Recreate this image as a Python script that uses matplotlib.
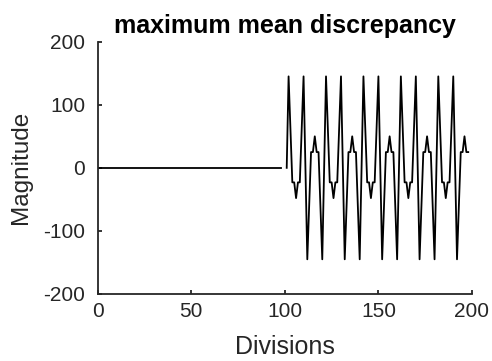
import matplotlib
matplotlib.use("Agg")
import matplotlib.pyplot as plt

# ========== DATA ========== #

# flat part (zero signal)
x_flat = [0, 98]
y_flat = [0, 0]

# oscillating part
x_osc = [101, 102, 104, 105, 106, 107, 108, 110, 112, 114, 115, 116, 117, 118, 120,
         122, 124, 125, 126, 127, 128, 130, 132, 134, 135, 136, 137, 138, 140,
         142, 144, 145, 146, 147, 148, 150, 152, 154, 155, 156, 157, 158, 160,
         162, 164, 165, 166, 167, 168, 170, 172, 174, 175, 176, 177, 178, 180,
         182, 184, 185, 186, 187, 188, 190, 192, 194, 195, 196, 197, 198]
y_osc = [0, 145, -23, -23, -48, -23, -23, 145, -145, 25, 25, 50, 25, 25, -145,
         145, -23, -23, -48, -23, -23, 145, -145, 25, 25, 50, 25, 25, -145,
         145, -23, -23, -48, -23, -23, 145, -145, 25, 25, 50, 25, 25, -145,
         145, -23, -23, -48, -23, -23, 145, -145, 25, 25, 50, 25, 25, -145,
         145, -23, -23, -48, -23, -23, 145, -145, 25, 25, 50, 25, 25]

x_ticks = [0, 50, 100, 150, 200]
y_ticks = [-200, -100, 0, 100, 200]

# ========== PLOT ========== #

plt.rcParams['font.family'] = ['Liberation Sans', 'DejaVu Sans']
plt.rcParams['axes.unicode_minus'] = False
axis_col = (0.15, 0.15, 0.15)

fig = plt.figure(figsize=(4.92, 3.61), dpi=100)
ax = fig.add_axes([0.1986, 0.1856, 0.7607, 0.6989])

ax.plot(x_flat, y_flat, color='black', lw=1.3)
ax.plot(x_osc, y_osc, color='black', lw=1.3)

ax.set_xlim(0, 200)
ax.set_ylim(-200, 200)
ax.set_xticks(x_ticks)
ax.set_yticks(y_ticks)

for s in ['top', 'right']:
    ax.spines[s].set_visible(False)
for s in ['left', 'bottom']:
    ax.spines[s].set_color(axis_col)
    ax.spines[s].set_linewidth(1.3)

ax.tick_params(direction='in', length=3, width=1.3, colors=axis_col,
               labelsize=15, labelcolor=axis_col)
ax.tick_params(axis='x', pad=6)
ax.tick_params(axis='y', pad=9)

ax.set_xlabel("Divisions", fontsize=18, color=axis_col, labelpad=10)
ax.set_ylabel("Magnitude", fontsize=17.5, color=axis_col, labelpad=8)
ax.set_title("maximum mean discrepancy", fontsize=18, fontweight='bold', pad=6)

fig.savefig("out.png", dpi=100)
